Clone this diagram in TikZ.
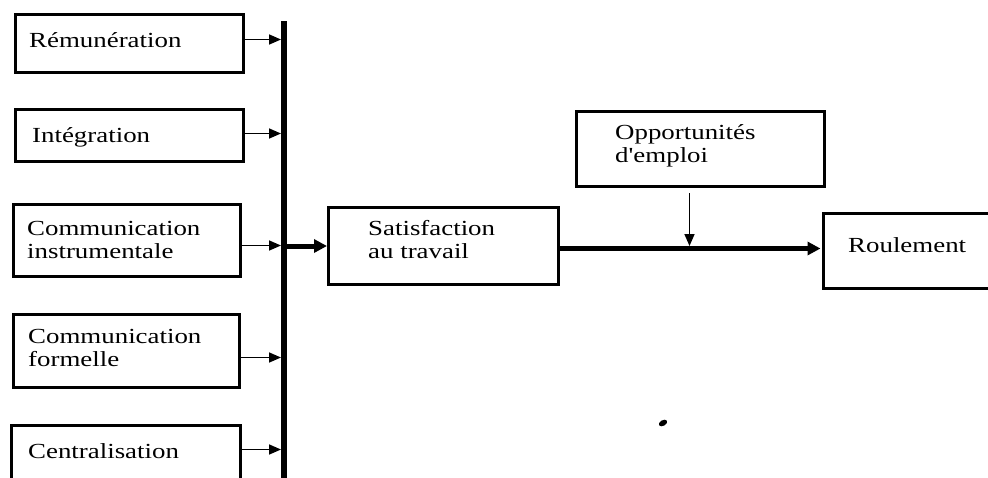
\documentclass[tikz,border=0pt]{standalone}
\usepackage{fontspec}
\setmainfont[FakeStretch=1.25,Ligatures=TeXOff]{Liberation Serif}
\usetikzlibrary{arrows.meta,calc}
\begin{document}
\begin{tikzpicture}[x=1pt,y=-1pt,
  box/.style={draw=black,line width=3pt,fill=white,inner sep=0pt},
  lbl/.style={inner sep=0pt,anchor=base west,align=left,font=\fontsize{21.5pt}{23pt}\selectfont},
  tarrow/.style={line width=1.6pt,-{Triangle[length=12pt,width=10pt]}},
  barrow/.style={line width=5pt,-{Triangle[length=13pt,width=13pt]}}]
\clip (0,0) rectangle (988,477);
\fill[white] (0,0) rectangle (988,477);
% boxes
\node[box,anchor=north west,minimum width=228pt,minimum height=58pt] (rem) at (14,13) {};
\node[box,anchor=north west,minimum width=228pt,minimum height=52pt] (integ) at (14,108) {};
\node[box,anchor=north west,minimum width=227pt,minimum height=72pt] (cinst) at (12,203) {};
\node[box,anchor=north west,minimum width=226pt,minimum height=73pt] (cform) at (12,313) {};
\node[box,anchor=north west,minimum width=229pt,minimum height=80pt] (cent) at (10,424) {};
\node[box,anchor=north west,minimum width=230pt,minimum height=77pt] (sat) at (327,206) {};
\node[box,anchor=north west,minimum width=248pt,minimum height=75pt] (opp) at (575,110) {};
\node[box,anchor=north west,minimum width=200pt,minimum height=75pt] (roul) at (822,212) {};
% labels (base = baseline of the last line)
\node[lbl] (trem) at (29,47) {Rémunération};
\node[lbl] (tinteg) at (32,142) {Intégration};
\node[lbl] (tcinst) at (27,258) {Communication\\instrumentale};
\node[lbl] (tcform) at (28,366) {Communication\\formelle};
\node[lbl] (tcent) at (28,458) {Centralisation};
\node[lbl] (tsat) at (368,258) {Satisfaction\\au travail};
\node[lbl] (topp) at (615,162) {Opportunités\\d'emploi};
\node[lbl] (troul) at (848,252) {Roulement};
% vertical bar
\coordinate (bartop) at (284,21);
\coordinate (barbot) at (284,490);
\draw[line width=6pt] (bartop) -- (barbot);
% thin arrows into bar
\draw[tarrow,shorten >=3pt] ([yshift=4pt]rem.east) -- ([yshift=4pt]rem.east -| bartop);
\draw[tarrow,shorten >=3pt] ([yshift=2pt]integ.east) -- ([yshift=2pt]integ.east -| bartop);
\draw[tarrow,shorten >=3pt] ([yshift=-5pt]cinst.east) -- ([yshift=-5pt]cinst.east -| bartop);
\draw[tarrow,shorten >=3pt] ([yshift=-6.5pt]cform.east) -- ([yshift=-6.5pt]cform.east -| bartop);
\draw[tarrow,shorten >=3pt] ([yshift=16pt]cent.east) -- ([yshift=16pt]cent.east -| bartop);
% bar to satisfaction
\draw[barrow] (sat.west -| bartop) -- (sat.west);
% satisfaction to roulement
\draw[barrow,shorten >=1.5pt] ([yshift=-2.5pt]sat.east) -- ([yshift=-2.5pt]sat.east -| roul.west);
% opportunités down to line
\draw[tarrow,shorten >=2.5pt] ([xshift=-11pt,yshift=-5pt]opp.south) -- ([xshift=-11pt,yshift=-2.5pt]opp.south |- sat.east);
% stray dot
\fill[rotate around={30:(663,423)}] (663,423) ellipse (4.5 and 2.8);
\end{tikzpicture}
\end{document}
